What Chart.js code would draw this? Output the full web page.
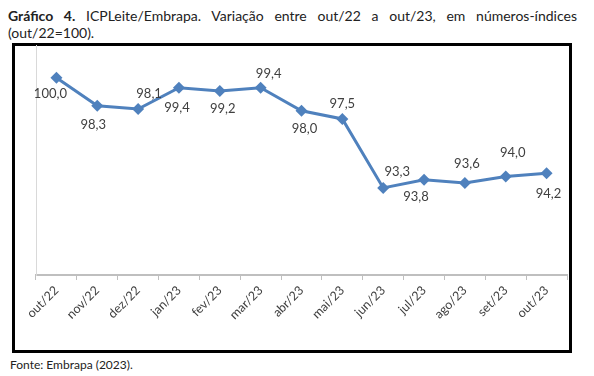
<!DOCTYPE html>
<html>
<head>
<meta charset="utf-8">
<script src="https://cdn.jsdelivr.net/npm/chart.js@4"></script>
<style>
  body { margin: 0; width: 594px; height: 376px; background: #fff; position: relative; overflow: hidden; font-family: Lato, "Open Sans", sans-serif; }
  #title { position: absolute; left: 8px; top: 7px; width: 569px; font-size: 14px; line-height: 17px; color: #222; }
  #title .l1 { display: block; text-align: justify; text-align-last: justify; }
  #box { position: absolute; left: 12px; top: 43px; width: 560px; height: 310px; border: 3px solid #000; box-sizing: border-box; }
  #fonte { position: absolute; left: 10px; top: 357px; font-size: 12px; color: #222; }
  #chart { position: absolute; left: 0; top: 0; }
</style>
</head>
<body>
<div id="title"><span class="l1"><b>Gráfico 4.</b> ICPLeite/Embrapa. Variação entre out/22 a out/23, em números-índices</span>(out/22=100).</div>
<div id="box"></div>
<div id="fonte">Fonte: Embrapa (2023).</div>
<canvas id="chart" width="594" height="376"></canvas>
<script>
// Data
const months = ['out/22', 'nov/22', 'dez/22', 'jan/23', 'fev/23', 'mar/23', 'abr/23',
                'mai/23', 'jun/23', 'jul/23', 'ago/23', 'set/23', 'out/23'];
// plotted positions of the markers
const indexValues = [100.0, 98.3, 98.1, 99.4, 99.2, 99.4, 98.0, 97.5, 93.3, 93.8, 93.6, 94.0, 94.2];
// labels as printed in the original (they don't always sit next to their own point)
const pointLabels = ['100,0', '98,3', '98,1', '99,4', '99,2', '99,4', '98,0', '97,5', '93,3', '93,8', '93,6', '94,0', '94,2'];

// label offsets from each marker, in px
const labelOffsets = [[-6, 16], [-4, 19], [11, -15], [-2, 20], [3, 18], [8, -14], [3, 18],
                      [0, -15], [14, -16], [-8, 17], [2, -19], [7, -24], [2, 21]];

const labelPlugin = {
    id: 'pointLabels',
    afterDatasetsDraw(chart) {
        const ctx = chart.ctx;
        const meta = chart.getDatasetMeta(0);
        ctx.save();
        ctx.font = '13px Lato, sans-serif';
        ctx.fillStyle = '#404040';
        ctx.textAlign = 'center';
        ctx.textBaseline = 'middle';
        meta.data.forEach((pt, i) => {
            const off = labelOffsets[i];
            ctx.fillText(pointLabels[i], pt.x + off[0], pt.y + off[1]);
        });
        ctx.restore();
    }
};

new Chart(document.getElementById('chart').getContext('2d'), {
    type: 'line',
    data: {
        labels: months,
        datasets: [{
            data: indexValues,
            borderColor: '#4f81bd',
            backgroundColor: '#4f81bd',
            borderWidth: 3,
            pointStyle: 'rectRot',
            pointRadius: 6,
            pointBorderWidth: 0,
            tension: 0
        }]
    },
    options: {
        responsive: false,
        animation: false,
        layout: { padding: { left: 36, right: 27, top: 45, bottom: 36 } },
        plugins: { legend: { display: false }, tooltip: { enabled: false } },
        scales: {
            x: {
                offset: true,
                grid: { drawOnChartArea: false, drawTicks: true, tickLength: 5, offset: true, color: '#bfbfbf' },
                border: { display: true, color: '#bfbfbf', width: 2 },
                ticks: {
                    autoSkip: false, minRotation: 45, maxRotation: 45, padding: 3,
                    color: '#404040', font: { family: 'Lato', size: 12.5 }
                },
                afterFit: s => { s.height = 65; }
            },
            y: {
                min: 88,
                max: 102,
                grid: { drawOnChartArea: false, drawTicks: false },
                border: { display: true, color: '#d9d9d9', width: 1 },
                ticks: { display: false },
                afterFit: s => { s.width = 0; }
            }
        }
    },
    plugins: [labelPlugin]
});
</script>
</body>
</html>
